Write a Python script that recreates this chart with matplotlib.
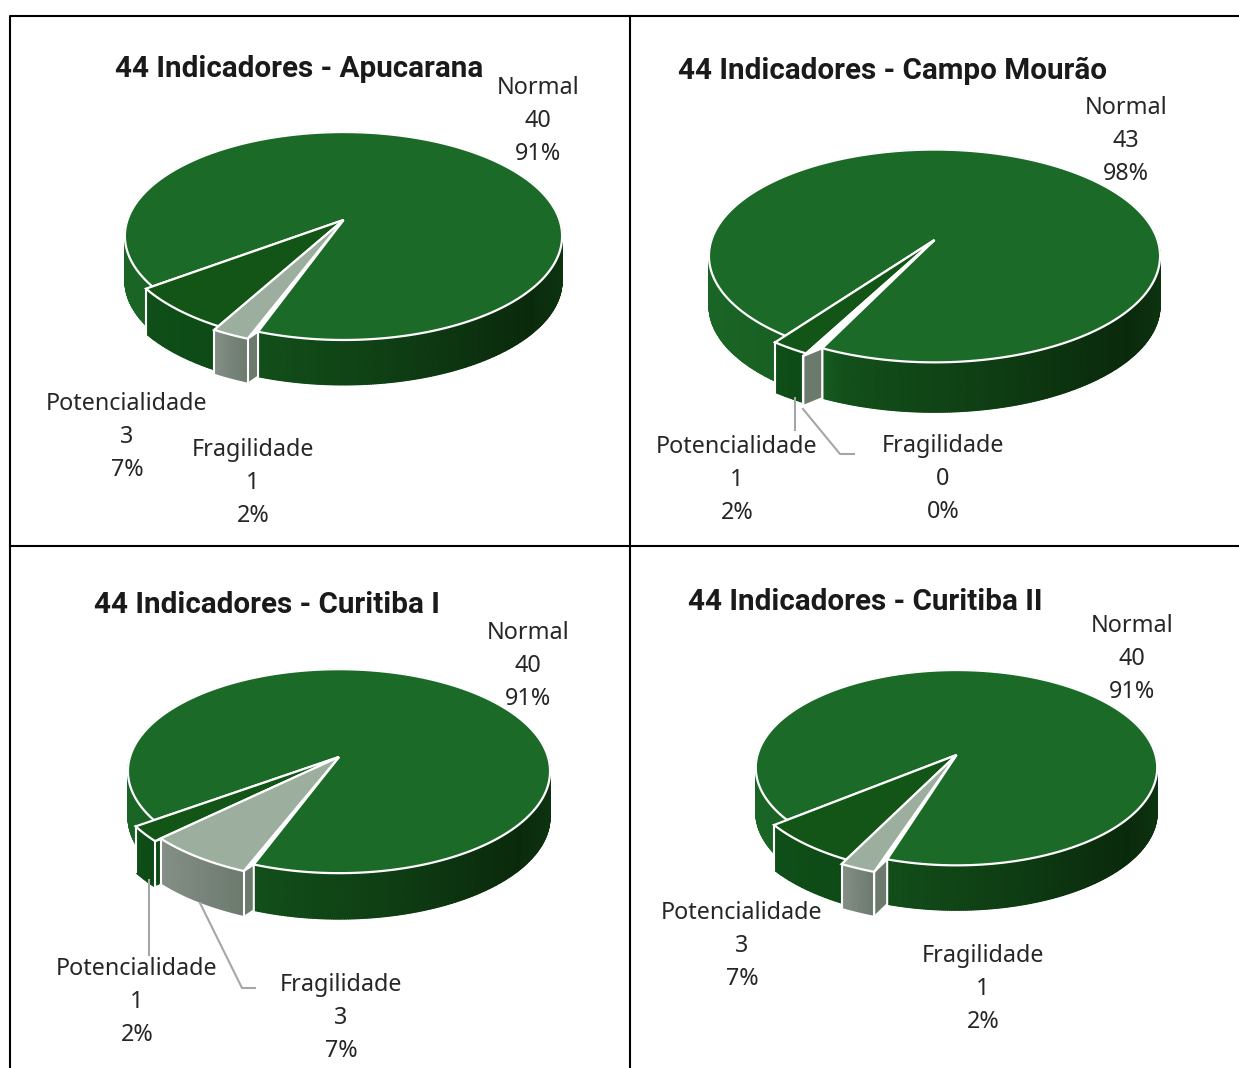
import numpy as np
import matplotlib
matplotlib.use('Agg')
import matplotlib.pyplot as plt
from matplotlib.colors import LinearSegmentedColormap

plt.rcParams['font.family'] = ['Noto Sans', 'DejaVu Sans']

# Data
titles = ['44 Indicadores - Apucarana', '44 Indicadores - Campo Mourão',
          '44 Indicadores - Curitiba I', '44 Indicadores - Curitiba II']
categories = ['Potencialidade', 'Fragilidade', 'Normal']
potencialidade = [3, 1, 1, 3]
fragilidade = [1, 0, 3, 1]
normal = [40, 43, 40, 40]

# Layout of each panel, in pixels of the reference
start_angle = [216.5, 234.0, 215.5, 218.5]
center_x = [343.5, 934.5, 339.0, 956.5]
apex_y = [220, 240, 757, 755]
radius_x = [216, 223, 209, 199]
radius_y = [101.5, 104, 100, 96]
persp = [0.154, 0.15, 0.139, 0.13]
depth = [45, 50, 46, 45]
pot_explode = [1.03, 1.06, 1.09, 1.07]
frag_explode = [1.06, 1.08, 1.06, 1.11]
normal_gap = [1.0, 2.0, 1.0, 1.0]
title_pos = [(115, 69), (678, 71), (94, 605), (688, 602)]
normal_pos = [(538, 88), (1126, 108), (528, 633), (1132, 626)]
pot_pos = [(127, 404), (737, 447), (137, 969), (742, 913)]
frag_pos = [(253, 450), (943, 446), (341, 985), (983, 956)]
leaders = [
    [[795, 795], [398, 430]],
    [[803, 840, 854], [409, 454, 454]],
    [[149, 149], [880, 955]],
    [[200, 242, 255], [903, 988, 988]],
]

normal_top = '#1b6a28'
pot_top = '#125516'
frag_top = '#9cae9e'
normal_wall = LinearSegmentedColormap.from_list(
    'nw', [(0, '#1a6526'), (0.25, '#165c20'), (0.3, '#124f1a'), (0.6, '#0f3f14'),
           (0.93, '#0a2a0c'), (1, '#0d3210')])
pot_wall = LinearSegmentedColormap.from_list('pw', ['#0f4f18', '#0e4a16'])
frag_wall = LinearSegmentedColormap.from_list('fw', ['#858f86', '#6c7a6e'])


def project(theta, r, i):
    # Perspective view of a point on the disc
    X = r * np.cos(np.radians(theta))
    Y = r * np.sin(np.radians(theta))
    w = 1 + persp[i] * Y
    return center_x[i] + radius_x[i] * X / w, apex_y[i] - radius_y[i] * Y / w


def arc(a0, a1, r, i):
    angles = np.linspace(a0, a1, max(int(abs(a1 - a0)) * 2, 2))
    return project(angles, r, i)


def draw_wall(ax, a0, a1, r, i, cmap, zorder, x0=None, x1=None):
    # Rim wall with a smooth left to right shading
    x, y = arc(a0, a1, r, i)
    if x0 is None:
        x0, x1 = x.min(), x.max()
    shade = (x - x0) / max(x1 - x0, 1)
    ax.pcolormesh(np.vstack([x, x]), np.vstack([y, y + depth[i]]), np.vstack([shade, shade]),
                  shading='gouraud', cmap=cmap, vmin=0, vmax=1, zorder=zorder)
    return x, y


def draw_wedge(ax, a0, a1, r, i, color, zorder):
    x, y = arc(a0, a1, r, i)
    ax.fill(np.r_[center_x[i], x], np.r_[apex_y[i], y], facecolor=color, edgecolor='white',
            lw=1.6, joinstyle='miter', zorder=zorder)


def draw_cut(ax, angle, r, i, cmap, zorder):
    # Radial face left open by the pulled out slice
    x0, y0 = project(angle, r, i)
    x1, y1 = project(angle + normal_gap[i], 1.0, i)
    ax.fill([x0, x1, x1, x0], [y0, y1, y1 + depth[i], y0 + depth[i]],
            facecolor=cmap(1.0), edgecolor='white', lw=1.5, zorder=zorder)


def draw_pie(ax, i):
    total = potencialidade[i] + fragilidade[i] + normal[i]
    a0 = start_angle[i]
    a1 = a0 + 360 * potencialidade[i] / total
    a2 = a1 + 360 * fragilidade[i] / total
    a3 = a0 + 360

    # Normal: the big slice, shaded across the whole disc
    xn0 = center_x[i] - radius_x[i]
    xn1 = center_x[i] + radius_x[i]
    draw_wall(ax, a2 + normal_gap[i], a3, 1.0, i, normal_wall, 2, xn0, xn1)
    draw_wedge(ax, a2 + normal_gap[i], a3, 1.0, i, normal_top, 3)

    # Potencialidade
    r = pot_explode[i]
    x, y = draw_wall(ax, a0, a1, r, i, pot_wall, 4)
    ax.plot([x[0], x[0]], [y[0], y[0] + depth[i]], color='white', lw=1.5, zorder=4.1)
    draw_cut(ax, a1, r, i, pot_wall, 4.2)
    draw_wedge(ax, a0, a1, r, i, pot_top, 5)

    # Fragilidade, in front of the others
    r = frag_explode[i]
    draw_cut(ax, a2, r, i, frag_wall, 5.8)
    x, y = draw_wall(ax, a1, a2, r, i, frag_wall, 6)
    ax.plot(x, y + depth[i], color='white', lw=1.5, zorder=6.1)
    ax.plot([x[0], x[0]], [y[0], y[0] + depth[i]], color='white', lw=1.5, zorder=6.1)
    ax.plot([x[-1], x[-1]], [y[-1], y[-1] + depth[i]], color='white', lw=1.5, zorder=6.1)
    draw_wedge(ax, a1, a2, r, i, frag_top, 7)


def draw_label(ax, pos, name, value, total):
    x, y = pos
    lines = [name, str(value), '%d%%' % round(100 * value / total)]
    for k, line in enumerate(lines):
        ax.text(x, y + k * 33, line, ha='center', va='center', fontsize=16.8,
                color='#262626', zorder=10)


def main():
    fig = plt.figure(figsize=(12.39, 10.68), dpi=100)
    ax = fig.add_axes([0, 0, 1, 1])
    ax.set_xlim(0, 1239)
    ax.set_ylim(1068, 0)
    ax.axis('off')

    # Table grid
    ax.plot([1239, 10, 10], [16, 16, 1068], color='black', lw=1.5, zorder=1)
    ax.plot([10, 1239], [546, 546], color='black', lw=1.5, zorder=1)
    ax.plot([630, 630], [16, 1068], color='black', lw=1.5, zorder=1)

    for i in range(4):
        draw_pie(ax, i)
        total = potencialidade[i] + fragilidade[i] + normal[i]
        ax.text(title_pos[i][0], title_pos[i][1], titles[i], ha='left', va='center',
                fontsize=21.3, fontweight='bold', family=['Roboto', 'DejaVu Sans'],
                color='#1a1a1a', zorder=10)
        draw_label(ax, normal_pos[i], categories[2], normal[i], total)
        draw_label(ax, pot_pos[i], categories[0], potencialidade[i], total)
        draw_label(ax, frag_pos[i], categories[1], fragilidade[i], total)

    for lx, ly in leaders:
        ax.plot(lx, ly, color='#a6a6a6', lw=1.5, zorder=9)

    fig.savefig('out.png', dpi=100)


if __name__ == "__main__":
    main()
